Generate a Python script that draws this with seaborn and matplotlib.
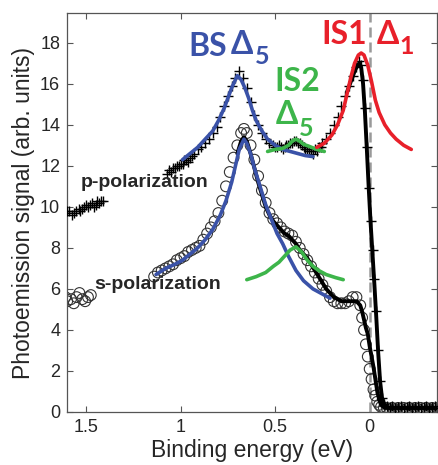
import numpy as np
import matplotlib
matplotlib.use("Agg")
import matplotlib.pyplot as plt
import seaborn as sns

# p-polarization data (crosses)
p_e1 = [1.61, 1.60, 1.59, 1.575, 1.565, 1.555, 1.54, 1.53, 1.52, 1.51, 1.50, 1.49,
        1.48, 1.47, 1.46, 1.45, 1.44, 1.43, 1.42, 1.41]
p_y1 = [9.7, 9.8, 9.8, 9.6, 9.7, 9.8, 9.9, 9.8, 9.9, 10.0, 10.1, 10.0,
        10.1, 10.2, 10.0, 10.1, 10.3, 10.2, 10.3, 10.3]
p_e2 = [1.07, 1.06, 1.05, 1.04, 1.03, 1.02, 1.01, 1.00, 0.99, 0.98, 0.97, 0.96,
        0.95, 0.94, 0.93, 0.91, 0.89, 0.87, 0.85,
        0.83, 0.81, 0.79, 0.77, 0.75, 0.73, 0.71, 0.69, 0.67, 0.65, 0.63, 0.61,
        0.59, 0.57, 0.55, 0.53, 0.51, 0.50, 0.49, 0.48, 0.47, 0.46, 0.45, 0.44,
        0.43, 0.42, 0.41, 0.40, 0.39, 0.38, 0.37, 0.36,
        0.35, 0.34, 0.33, 0.32, 0.31, 0.30, 0.29, 0.28, 0.27, 0.26, 0.25, 0.23,
        0.21, 0.19, 0.17, 0.15, 0.13,
        0.11, 0.09, 0.07, 0.055, 0.045, 0.035, 0.025, 0.015, 0.005, -0.005,
        -0.015, -0.025, -0.035, -0.045, -0.055, -0.065, -0.075, -0.09, -0.105,
        -0.12, -0.135, -0.15, -0.165, -0.18, -0.195, -0.21, -0.225, -0.24,
        -0.255, -0.27, -0.285, -0.30, -0.315, -0.33, -0.345, -0.36]
p_y2 = [11.6, 11.8, 11.7, 11.9, 11.9, 12.0, 12.0, 12.1, 12.1, 12.3, 12.3, 12.2,
        12.4, 12.5, 12.6, 12.8, 12.9, 13.1, 13.3,
        13.6, 13.9, 14.4, 14.9, 15.4, 15.9, 16.3, 16.6, 16.3, 15.8, 15.1, 14.5,
        14.0, 13.6, 13.3, 13.1, 13.0, 12.9, 12.9, 13.0, 12.9, 12.8, 12.9, 13.0,
        13.0, 13.1, 13.1, 13.2, 13.2, 13.1, 13.1, 13.0,
        12.9, 12.8, 12.8, 12.7, 12.7, 12.6, 12.8, 12.7, 12.9, 12.9, 13.1, 13.3,
        13.6, 14.0, 14.4, 14.9, 15.4,
        15.9, 16.4, 16.8, 17.1, 16.9, 16.2, 14.8, 12.9, 10.9, 9.3,
        7.9, 6.5, 4.9, 3.0, 1.5, 0.7, 0.4, 0.3, 0.25,
        0.3, 0.2, 0.25, 0.3, 0.2, 0.25, 0.3, 0.2, 0.25,
        0.3, 0.2, 0.25, 0.3, 0.2, 0.25, 0.3, 0.2]

# s-polarization data (circles)
s_e1 = [1.61, 1.60, 1.58, 1.565, 1.55, 1.535, 1.52, 1.505, 1.49, 1.475]
s_y1 = [5.6, 5.4, 5.5, 5.3, 5.6, 5.8, 5.5, 5.4, 5.6, 5.7]
s_e2 = [1.14, 1.12, 1.10, 1.08, 1.06, 1.04, 1.02, 1.00, 0.98, 0.96, 0.94, 0.92,
        0.90, 0.88, 0.86, 0.84, 0.82, 0.80, 0.78, 0.76, 0.74, 0.72, 0.70, 0.68,
        0.665, 0.65, 0.63, 0.61, 0.59, 0.57, 0.55, 0.53, 0.51, 0.49, 0.47, 0.45,
        0.43, 0.41, 0.39, 0.37, 0.35, 0.33, 0.31, 0.29, 0.27, 0.25, 0.23, 0.21,
        0.19, 0.17, 0.15, 0.13, 0.11, 0.09, 0.07, 0.05, 0.04, 0.03, 0.02, 0.01,
        0.0, -0.01, -0.02, -0.03, -0.04, -0.05, -0.06, -0.075, -0.09, -0.105,
        -0.12, -0.135, -0.15, -0.165, -0.18, -0.195, -0.21, -0.225, -0.24,
        -0.255, -0.27, -0.285, -0.30, -0.315, -0.33, -0.345, -0.36]
s_y2 = [6.6, 6.8, 6.9, 7.0, 7.1, 7.2, 7.4, 7.5, 7.6, 7.8, 7.9, 8.0,
        8.1, 8.4, 8.7, 9.0, 9.3, 9.7, 10.3, 11.0, 11.7, 12.4, 13.0, 13.6,
        13.8, 13.6, 13.0, 12.3, 11.5, 10.8, 10.2, 9.7, 9.4, 9.2, 9.0, 8.8,
        8.7, 8.6, 8.3, 8.0, 7.7, 7.4, 7.1, 6.8, 6.5, 6.2, 5.9, 5.6,
        5.4, 5.3, 5.3, 5.3, 5.4, 5.6, 5.6, 5.2, 4.6, 4.0, 3.3, 2.7,
        2.1, 1.6, 1.1, 0.8, 0.5, 0.35, 0.25, 0.2, 0.2, 0.15,
        0.2, 0.15, 0.2, 0.15, 0.2, 0.15, 0.2, 0.15, 0.2,
        0.15, 0.2, 0.15, 0.2, 0.15, 0.2, 0.15, 0.2]

# black smoothed lines
p_line_e = [0.12, 0.10, 0.08, 0.065, 0.055, 0.045, 0.035, 0.025, 0.015, 0.005,
            -0.005, -0.015, -0.025, -0.035, -0.045, -0.055, -0.065, -0.08, -0.10, -0.36]
p_line_y = [15.6, 16.1, 16.6, 16.9, 17.0, 16.8, 16.0, 14.6, 12.8, 10.9,
            9.2, 7.7, 6.2, 4.6, 2.9, 1.5, 0.7, 0.3, 0.2, 0.2]
s_line_e = [0.70, 0.68, 0.665, 0.65, 0.63, 0.61, 0.59, 0.57, 0.55, 0.53, 0.51,
            0.49, 0.47, 0.45, 0.43, 0.41, 0.39, 0.37, 0.35, 0.33, 0.31, 0.29,
            0.27, 0.25, 0.23, 0.21, 0.19, 0.17, 0.15, 0.13, 0.11, 0.09, 0.07,
            0.05, 0.04, 0.03, 0.02, 0.01, 0.0, -0.01, -0.02, -0.03, -0.04,
            -0.05, -0.06, -0.08, -0.36]
s_line_y = [12.6, 13.2, 13.4, 13.2, 12.6, 11.9, 11.2, 10.6, 10.0, 9.6, 9.3,
            9.1, 8.9, 8.7, 8.6, 8.4, 8.2, 7.9, 7.7, 7.5, 7.2, 6.9,
            6.6, 6.3, 6.0, 5.8, 5.6, 5.5, 5.4, 5.4, 5.4, 5.4, 5.4,
            5.2, 4.9, 4.5, 4.1, 3.8, 3.2, 2.7, 2.2, 1.6, 1.0,
            0.6, 0.35, 0.2, 0.2]

# fitted components
bs_p_e = [0.99, 0.95, 0.91, 0.87, 0.83, 0.80, 0.77, 0.75, 0.73, 0.71, 0.70,
          0.68, 0.66, 0.64, 0.62, 0.60, 0.57, 0.54, 0.50, 0.46, 0.42, 0.38, 0.34, 0.30]
bs_p_y = [12.3, 12.6, 12.9, 13.3, 13.7, 14.2, 14.8, 15.3, 15.8, 16.2, 16.4,
          16.2, 15.8, 15.3, 14.7, 14.2, 13.7, 13.3, 13.0, 12.8, 12.7, 12.6, 12.5, 12.45]
bs_s_e = [1.13, 1.08, 1.03, 0.99, 0.95, 0.91, 0.87, 0.83, 0.79, 0.76, 0.73,
          0.71, 0.69, 0.665, 0.65, 0.63, 0.61, 0.59, 0.57, 0.55, 0.52, 0.49,
          0.46, 0.43, 0.39, 0.35, 0.30, 0.25, 0.21]
bs_s_y = [6.7, 7.0, 7.2, 7.4, 7.7, 8.0, 8.4, 8.9, 9.6, 10.3, 11.2,
          12.0, 12.8, 13.3, 13.1, 12.6, 11.9, 11.3, 10.7, 10.1, 9.4, 8.7,
          8.2, 7.6, 6.9, 6.4, 6.0, 5.75, 5.55]
is1_e = [0.28, 0.24, 0.20, 0.17, 0.14, 0.12, 0.10, 0.08, 0.06, 0.045, 0.03,
         0.01, -0.01, -0.03, -0.05, -0.08, -0.11, -0.14, -0.18, -0.22]
is1_y = [12.9, 13.1, 13.5, 14.0, 14.7, 15.5, 16.3, 17.0, 17.4, 17.5, 17.4,
         16.9, 16.1, 15.2, 14.6, 14.0, 13.6, 13.3, 13.0, 12.8]
is2_p_e = [0.54, 0.50, 0.46, 0.43, 0.41, 0.39, 0.37, 0.35, 0.32, 0.28, 0.24]
is2_p_y = [12.7, 12.8, 12.85, 13.0, 13.2, 13.3, 13.2, 13.05, 12.95, 12.8, 12.7]
is2_s_e = [0.65, 0.60, 0.55, 0.51, 0.48, 0.45, 0.42, 0.39, 0.36, 0.33, 0.30,
           0.27, 0.23, 0.18, 0.14]
is2_s_y = [6.45, 6.6, 6.8, 7.1, 7.3, 7.6, 7.9, 8.05, 7.8, 7.4, 7.1,
           6.9, 6.7, 6.55, 6.45]

blue = '#3a52a8'
red = '#e8202a'
green = '#3db54a'

sns.set_style('ticks')
plt.rcParams['font.family'] = ['Liberation Sans', 'DejaVu Sans']

fig = plt.figure(figsize=(4.39, 4.65), dpi=100)
ax = fig.add_axes([0.153, 0.114, 0.842, 0.858])

ax.axvline(0, color='#999999', lw=1.8, ls=(0, (4, 2)), zorder=1)

# circles
for e, y in [(s_e1, s_y1), (s_e2, s_y2)]:
    sns.scatterplot(x=e, y=y, marker='o', s=60, fc='none', ec='#333333',
                    linewidth=0.8, ax=ax, zorder=2)
# crosses
for e, y in [(p_e1, p_y1), (p_e2, p_y2)]:
    sns.scatterplot(x=e, y=y, marker='+', s=55, color='black',
                    linewidth=1.0, ax=ax, zorder=3)

for e, y in [(s_line_e, s_line_y), (p_line_e, p_line_y)]:
    sns.lineplot(x=e, y=y, sort=False, estimator=None, color='black', lw=2.8, ax=ax, zorder=4)

for e, y, c in [(bs_p_e, bs_p_y, blue), (bs_s_e, bs_s_y, blue),
                (is2_p_e, is2_p_y, green), (is2_s_e, is2_s_y, green),
                (is1_e, is1_y, red)]:
    sns.lineplot(x=e, y=y, sort=False, estimator=None, color=c, lw=2.6, ax=ax, zorder=5)

ax.set_xlim(1.60, -0.355)
ax.set_ylim(0, 19.45)
ax.set_xticks([1.5, 1, 0.5, 0])
ax.set_xticklabels(['1.5', '1', '0.5', '0'])
ax.set_yticks(range(0, 19, 2))
ax.tick_params(direction='in', top=True, right=True, length=4, width=0.8,
               labelsize=13, color='#555555', pad=5)
for sp in ax.spines.values():
    sp.set_color('#555555')
    sp.set_linewidth(0.9)

ax.set_xlabel('Binding energy (eV)', fontsize=16.5, labelpad=2)
ax.set_ylabel('Photoemission signal (arb. units)', fontsize=16.5, labelpad=4)

big = dict(family=['Lato', 'DejaVu Sans'], fontweight='bold', fontsize=23)
sub = dict(family=['Lato', 'DejaVu Sans'], fontweight='bold', fontsize=18)
ax.text(0.957, 17.35, 'BS', color=blue, ha='left', va='baseline', **big)
ax.text(0.735, 17.45, 'Δ', color=blue, ha='left', va='baseline', **big)
ax.text(0.605, 16.95, '5', color=blue, ha='left', va='baseline', **sub)
ax.text(0.255, 17.95, 'IS1', color=red, ha='left', va='baseline', **big)
ax.text(-0.037, 17.95, 'Δ', color=red, ha='left', va='baseline', **big)
ax.text(-0.155, 17.45, '1', color=red, ha='left', va='baseline', **sub)
ax.text(0.505, 15.65, 'IS2', color=green, ha='left', va='baseline', **big)
ax.text(0.495, 14.05, 'Δ', color=green, ha='left', va='baseline', **big)
ax.text(0.372, 13.45, '5', color=green, ha='left', va='baseline', **sub)

ax.text(1.527, 11.2, 'p-polarization', fontsize=14, fontweight='bold', ha='left', va='center')
ax.text(1.457, 6.2, 's-polarization', fontsize=14, fontweight='bold', ha='left', va='center')

fig.savefig('out.png', dpi=100)
